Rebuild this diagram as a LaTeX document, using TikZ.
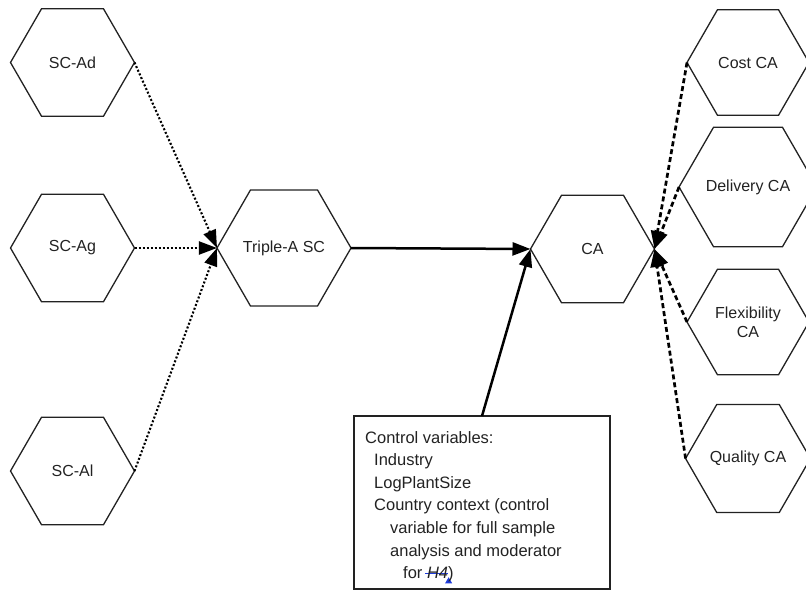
\documentclass[tikz,border=0pt]{standalone}
\usepackage{fontspec}
\setmainfont{Liberation Sans}
\usetikzlibrary{shapes.geometric,arrows.meta}
\definecolor{inkgray}{RGB}{34,34,34}
\definecolor{markblue}{RGB}{30,60,220}
% italic H4 struck through in blue, with a small insertion caret
\newcommand\struckHfour{%
  \setbox0\hbox{\textit{H4}}%
  \rlap{\color{markblue}\kern-2pt\rule[0.3em]{\dimexpr\wd0+2pt\relax}{0.9pt}}%
  \rlap{\hbox to \wd0{\hfill\raisebox{-4.5pt}{\tikz[baseline=0pt,x=1pt,y=1pt]
      \fill[markblue] (0,0) -- (7,0) -- (3.5,6) -- cycle;}\kern-4pt}}%
  \box0}
\begin{document}
\begin{tikzpicture}[x=1pt,y=-1pt,
  hexa/.style={regular polygon, regular polygon sides=6, draw=inkgray,
    line width=1.3pt, inner sep=0pt, outer sep=0pt, minimum size=124pt,
    text=inkgray, font=\fontsize{16}{19}\selectfont, align=center},
  hexr/.style={hexa, minimum size=122pt},
  tip/.style={-{Triangle[length=18pt,width=13pt]}},
  dotarrow/.style={tip, line width=2.1pt, dash pattern=on 2pt off 2pt},
  dasharrow/.style={tip, line width=2.7pt, dash pattern=on 5pt off 3pt},
  solidarrow/.style={tip, line width=2.5pt},
]
\useasboundingbox (0,0) rectangle (806,591);

% left-hand constructs
\node[hexa] (ad) at (72.5,62.5) {SC-Ad};
\node[hexa] (ag) at (72.5,248) {SC-Ag};
\node[hexa] (al) at (72.5,471) {SC-Al};

% central constructs
\node[hexa] (tas) at (284,248) {Triple-A SC};
\node[hexa] (ca) at (592.5,249) {CA};

% competitive advantage dimensions
\node[hexr] (cost) at (748,62.5) {Cost CA};
\node[hexr] (deliv) at (748,187) {Delivery CA};
\node[hexr] (flex) at (748,322) {Flexibility\\CA};
\node[hexr] (qual) at (748,458.5) {Quality CA};

% control variables box
\node[draw=inkgray, line width=1.3pt, minimum width=256pt, minimum height=173pt,
      anchor=north west, inner sep=0pt, outer sep=0pt] (ctrl) at (354,416) {};
\node[anchor=north west, align=left, inner sep=0pt, text=inkgray,
      font=\fontsize{16.5}{22.6}\selectfont] (ctrltext) at (365,431) {%
  Control variables:\\
  \hspace*{9pt}Industry\\
  \hspace*{9pt}LogPlantSize\\
  \hspace*{9pt}Country context (control\\
  \hspace*{25pt}variable for full sample\\
  \hspace*{25pt}analysis and moderator\\
  \hspace*{38pt}for \struckHfour)};

% connectors
\draw[dotarrow] (ad.east) -- (tas.west);
\draw[dotarrow] (ag.east) -- (tas.west);
\draw[dotarrow] (al.east) -- (tas.west);
\draw[solidarrow] (tas.east) -- (ca.west);
\draw[solidarrow] (ctrl.north) -- (ca.west);
\draw[dasharrow] (cost.west) -- (ca.east);
\draw[dasharrow] (deliv.west) -- (ca.east);
\draw[dasharrow] (flex.west) -- (ca.east);
\draw[dasharrow] (qual.west) -- (ca.east);
\end{tikzpicture}
\end{document}
